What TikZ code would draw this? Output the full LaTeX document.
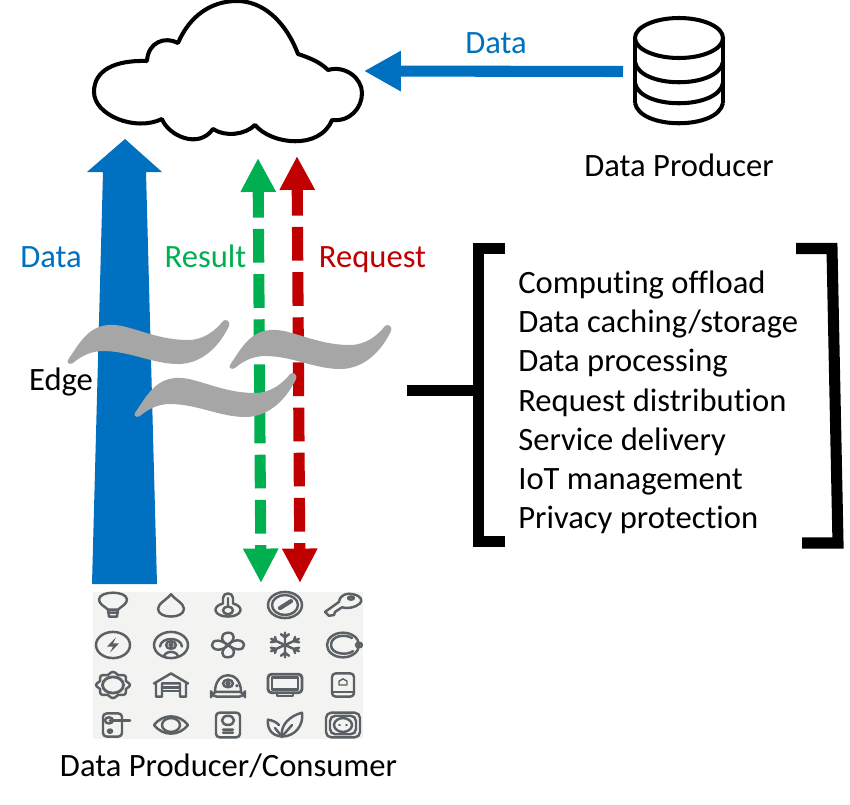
\documentclass[tikz,border=0pt]{standalone}
\usepackage{fontspec}
\setmainfont[Ligatures=NoCommon]{Carlito}
\usetikzlibrary{arrows.meta,bending}
\definecolor{flowblue}{RGB}{0,112,192}
\definecolor{flowgreen}{RGB}{0,176,80}
\definecolor{flowred}{RGB}{192,0,0}
\definecolor{wavegray}{RGB}{166,166,166}
\definecolor{icongray}{RGB}{90,96,100}
\definecolor{iconbg}{RGB}{243,243,241}
\newcommand{\iconat}[3]{\begin{scope}[shift={(#1,#2)},yscale=0.77] #3 \end{scope}}
\tikzset{
  lbl/.style={inner sep=0pt, anchor=base, font=\fontsize{18.55}{22}\selectfont},
  icon/.style={draw=icongray, line width=1.4pt, line join=round, line cap=round},
  heavy/.style={draw=black, line width=6.3pt, line join=miter},
  dashflow/.style={line width=6.3pt, dash pattern=on 19.2pt off 6.5pt, dash phase=3.4pt,
    {Triangle[length=19.3pt,width=18.8pt]}-{Triangle[length=19.6pt,width=18.8pt]}},
  wave/.pic={
    \fill[wavegray] (0,0) .. controls (12,-18) and (20,-33) .. (40,-35)
      .. controls (60,-37) and (85,-20) .. (120,-20)
      .. controls (136,-20) and (148,-30) .. (155,-39)
      .. controls (158,-42) and (163,-38) .. (161,-34)
      .. controls (152,-15) and (135,4) .. (110,4)
      .. controls (85,4) and (62,-9) .. (35,-9)
      .. controls (22,-9) and (12,-3) .. (5,3)
      .. controls (2,5) and (-2,3) .. (0,0) -- cycle;
  }
}

\begin{document}
\begin{tikzpicture}[x=0.02cm, y=-0.02cm]
\useasboundingbox (0,0) rectangle (850,805);

%% ── Cloud ────────────────────────────────────────────────────────────────────
\draw[black, line width=2.3pt, fill=white, line join=round]
  (147,61) .. controls (115,60) and (94,70) .. (94,92)
  .. controls (94,115) and (135,132) .. (162,119)
  .. controls (168,135) and (198,150) .. (213,129)
  .. controls (225,137) and (245,135) .. (255,125)
  .. controls (272,145) and (320,150) .. (332,120)
  .. controls (350,122) and (362,108) .. (362,93)
  .. controls (362,78) and (345,65) .. (328,70)
  .. controls (320,62) and (310,58) .. (298,54)
  .. controls (285,20) and (262,1) .. (237,1)
  .. controls (212,1) and (190,15) .. (178,43)
  .. controls (165,36) and (148,42) .. (147,61) -- cycle;
\coordinate (cloudright) at (364,71);

%% ── Database ─────────────────────────────────────────────────────────────────
\begin{scope}[black, line width=2.3pt]
  \draw (679,38) ellipse [x radius=44, y radius=20];
  \draw (635,38) -- (635,103) (723,38) -- (723,103);
  \foreach \y in {62,83,103}
    \draw (635,\y) .. controls (640,\y+27) and (718,\y+27) .. (723,\y);
\end{scope}
\coordinate (dbleft) at (623,71.5);
\node[lbl] (dbname) at (679,176) {Data Producer};

%% ── Arrows ───────────────────────────────────────────────────────────────────
\draw[flowblue, line width=6.3pt, -{Triangle[length=21pt,width=21.6pt]}] (dbleft) -- (cloudright);
\node[lbl, text=flowblue] (dbdata) at (496,53) {Data};

\coordinate (upa) at (92,584);
\coordinate (upb) at (157,584);
\fill[flowblue] (upa) -- (103,172) -- (87,172) -- (125,139) -- (162,172) -- (146,172) -- (upb) -- cycle;

\coordinate (greentop) at (258,158);
\coordinate (greenbot) at (261,583);
\coordinate (redtop) at (297,156);
\coordinate (redbot) at (300,583);
\draw[flowgreen, dashflow] (greentop) -- (greenbot);
\draw[flowred, dashflow] (redtop) -- (redbot);

\node[lbl, text=flowblue] (updata) at (51,267) {Data};
\node[lbl, text=flowgreen] (result) at (205.5,267) {Result};
\node[lbl, text=flowred] (request) at (372.5,267) {Request};

%% ── Edge waves ───────────────────────────────────────────────────────────────
\pic (wavea) at (68,360) {wave};
\pic (waveb) at (230,365) {wave};
\pic (wavec) at (135,413) {wave};
\node[lbl] (edge) at (61,390) {Edge};

%% ── Bracket ──────────────────────────────────────────────────────────────────
\coordinate (ticka) at (407,390.5);
\coordinate (tickb) at (478,390.5);
\draw[heavy] (ticka) -- (tickb);
\draw[heavy] (505,248.5) -- (478.5,248.5) -- (478.5,541.5) -- (505,541.5);
\draw[heavy] (796,248.5) -- (832,248.5) -- (838,543) -- (802,543);
\foreach \txt [count=\i from 0] in {Computing offload,Data caching/storage,Data processing,
    Request distribution,Service delivery,IoT management,Privacy protection}
  \node[lbl, anchor=base west] (item\i) at (518,293.5+39.2*\i) {\txt};

%% ── Device icons ─────────────────────────────────────────────────────────────
\fill[iconbg] (93,592) rectangle (363,739);

\iconat{113}{605}{%
  \draw[icon] (-5,6) .. controls (-8,2) and (-14,-1) .. (-14,-7) .. controls (-14,-13) and (-7,-16) .. (0,-16)
    .. controls (7,-16) and (14,-13) .. (14,-7) .. controls (14,-1) and (8,2) .. (5,6) -- cycle;
  \draw[icon] (-5,6) -- (-4,15) -- (4,15) -- (5,6) (-5,10) -- (5,10);
}
\iconat{171}{605}{%
  \draw[icon] (0,-14) .. controls (4,-7) and (13,-2) .. (13,5) .. controls (13,12) and (6,15) .. (0,15)
    .. controls (-6,15) and (-13,12) .. (-13,5) .. controls (-13,-2) and (-4,-7) .. (0,-14) -- cycle;
}
\iconat{228}{605}{%
  \draw[icon] (-5,-2) -- (-5,-9) .. controls (-5,-17) and (5,-17) .. (5,-9) -- (5,-2)
    .. controls (17,2) and (14,15) .. (0,15) .. controls (-14,15) and (-17,2) .. (-5,-2) -- cycle;
  \draw[icon] (0,7) circle (5) (0,-9) -- (0,2);
}
\iconat{285}{605}{%
  \draw[icon] (0,0) circle (17) (0,0) circle (13);
  \draw[icon, line width=2.4pt] (-5,4) -- (6,-5);
}
\iconat{343}{605}{%
  \draw[icon] (-4,-4) .. controls (-3,-14) and (5,-16) .. (10,-14) .. controls (18,-12) and (20,-6) .. (17,-2)
    .. controls (12,4) and (3,5) .. (-1,3) -- (-8,9) -- (-9,13) -- (-14,14) -- (-18,9) -- cycle;
  \draw[icon] (8,-9) ellipse [x radius=3, y radius=2];
}

\iconat{113}{645}{%
  \draw[icon] (0,0) circle (17);
  \fill[icongray] (3,-10) -- (-6,2) -- (0,2) -- (-3,10) -- (6,-2) -- (0,-2) -- cycle;
}
\iconat{171}{645}{%
  \draw[icon] (0,0) circle (17);
  \draw[icon] (-11,2) .. controls (-10,-11) and (10,-11) .. (11,2);
  \draw[icon] (0,0) circle (5) (0,0) circle (1.5);
  \draw[icon] (-7,15) .. controls (-6,7) and (6,7) .. (7,15);
}
\iconat{228}{645}{%
  \foreach \a in {0,90,180,270}
    \draw[icon, rotate=\a] (0,0) .. controls (-7,-4) and (-9,-15) .. (0,-16) .. controls (8,-16) and (7,-6) .. (0,0);
}
\iconat{285}{645}{%
  \foreach \a in {0,60,120}
    \draw[icon, rotate=\a] (0,-16) -- (0,16) (-4,-14) -- (0,-10) -- (4,-14) (-4,14) -- (0,10) -- (4,14);
}
\iconat{343}{645}{%
  \draw[icon] (0,0) circle (16);
  \draw[icon] (9,-9) .. controls (2,-15) and (-12,-12) .. (-12,0) .. controls (-12,12) and (4,14) .. (10,8);
  \draw[icon] (16,0) circle (3);
}

\iconat{113}{685}{%
  \draw[icon] plot[domain=0:360, samples=49, smooth] ({(15.5+1.5*cos(8*\x))*cos(\x)},{(15.5+1.5*cos(8*\x))*sin(\x)});
  \draw[icon, line width=1.6pt] (0,0) circle (10.5);
}
\iconat{171}{685}{%
  \draw[icon] (-17,-2) -- (0,-15) -- (17,-2) -- (15,-2) -- (15,15) -- (9,15) -- (9,-2) -- (-9,-2) -- (-9,15) -- (-15,15) -- (-15,-2) -- cycle;
  \draw[icon] (-9,3) -- (9,3) (-9,8) -- (9,8);
}
\iconat{228}{685}{%
  \draw[icon] (-13,9) .. controls (-13,-20) and (13,-20) .. (13,9);
  \draw[icon, rounded corners=3pt] (-17,9) rectangle (17,15);
  \draw[icon] (0,-2) circle (5) (0,-2) circle (1.5) (9,1) circle (0.5);
}
\iconat{285}{685}{%
  \draw[icon, rounded corners=2pt, line width=1.6pt] (-17,-14) rectangle (17,10);
  \draw[icon] (-13,-10) rectangle (13,6) (-8,10) -- (-8,14) -- (8,14) -- (8,10);
}
\iconat{343}{685}{%
  \draw[icon, rounded corners=2pt] (-11,-15) rectangle (11,15);
  \draw[icon] (-11,9) -- (11,9);
  \draw[icon, line width=0.8pt] (-4,0) -- (-4,-5) -- (0,-8) -- (4,-5) -- (4,0) -- cycle;
}

\iconat{113}{725}{%
  \draw[icon, rounded corners=2pt] (-10,-15) rectangle (9,15);
  \draw[icon] (-4,-6) circle (4) (-3,8) circle (2);
  \draw[icon, line width=1.6pt] (-3,-6) -- (17,-6);
}
\iconat{171}{725}{%
  \draw[icon] (-17,0) .. controls (-8,-15) and (8,-15) .. (17,0) .. controls (8,15) and (-8,15) .. (-17,0) -- cycle;
  \draw[icon] (0,0) circle (9);
}
\iconat{228}{725}{%
  \draw[icon, rounded corners=2pt] (-12,-16) rectangle (12,16);
  \draw[icon] (0,-6) circle (6) (-5,6) -- (5,6) (-5,10) -- (5,10);
}
\iconat{285}{725}{%
  \draw[icon] (-3,15) .. controls (-5,0) and (5,-12) .. (17,-16) .. controls (19,0) and (10,15) .. (-3,15) -- cycle;
  \draw[icon] (-3,15) .. controls (-15,14) and (-18,2) .. (-17,-7) .. controls (-12,-6) and (-8,-3) .. (-6,0);
  \draw[icon] (-3,15) -- (-10,4) (-3,15) -- (7,0);
}
\iconat{343}{725}{%
  \draw[icon, rounded corners=3pt] (-17,-16) rectangle (17,16);
  \draw[icon, rounded corners=3pt] (-13,-12) rectangle (13,12);
  \draw[icon] (0,0) circle (9);
  \fill[icongray] (-3.5,0) circle (1.5) (3.5,0) circle (1.5);
}

\node[lbl] (devices) at (228.5,776) {Data Producer/Consumer};

\end{tikzpicture}
\end{document}
